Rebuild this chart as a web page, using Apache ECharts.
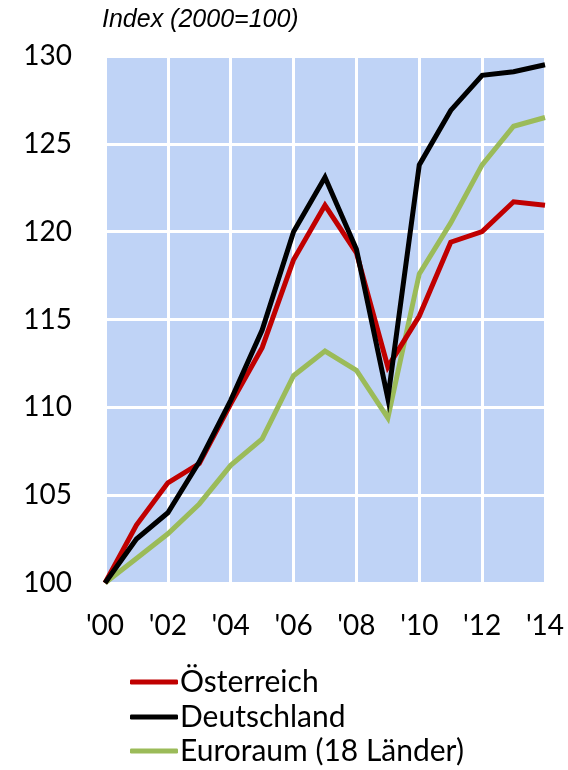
<!DOCTYPE html>
<html>
<head>
<meta charset="utf-8">
<script src="https://cdn.jsdelivr.net/npm/echarts@6/dist/echarts.min.js"></script>
<style>
    html, body { margin: 0; padding: 0; background: #fff; }
    #main { width: 568px; height: 770px; }
</style>
</head>
<body>
<div id="main"></div>
<script>
// years 2000..2014
var years = ["'00", "'01", "'02", "'03", "'04", "'05", "'06", "'07", "'08", "'09", "'10", "'11", "'12", "'13", "'14"];
var oesterreich = [100, 103.3, 105.7, 106.8, 110.2, 113.4, 118.4, 121.5, 118.8, 112.3, 115.2, 119.4, 120.0, 121.7, 121.5];
var deutschland = [100, 102.5, 104.0, 106.9, 110.4, 114.4, 120.0, 123.1, 119.0, 110.5, 123.8, 126.9, 128.9, 129.1, 129.5];
var euroraum = [100, 101.4, 102.8, 104.5, 106.7, 108.2, 111.8, 113.2, 112.1, 109.4, 117.6, 120.5, 123.8, 126.0, 126.5];
var seriesNames = ['Österreich', 'Deutschland', 'Euroraum (18 Länder)'];
var seriesColors = ['#c00000', '#000000', '#9bbb59'];

var font = 'Lato, "Open Sans", sans-serif';

function line(name, data, color) {
    return {
        name: name,
        type: 'line',
        data: data,
        symbol: 'none',
        lineStyle: { width: 5, color: color, join: 'miter' },
        itemStyle: { color: color },
        z: 3
    };
}

// one legend per row so nothing wraps
function legendRow(name, top) {
    return {
        orient: 'vertical',
        left: 130,
        top: top,
        padding: 0,
        itemWidth: 48,
        itemHeight: 5,
        icon: 'roundRect',
        textStyle: {
            fontFamily: font,
            fontSize: 30,
            color: '#000',
            padding: [0, 0, 0, -3]
        },
        data: [name]
    };
}

var myChart = echarts.init(document.getElementById('main'));
myChart.setOption({
    animation: false,
    title: {
        text: 'Index (2000=100)',
        left: 102,
        top: 8,
        padding: 0,
        textStyle: {
            fontFamily: '"Liberation Sans", Arial, sans-serif',
            fontStyle: 'italic',
            fontWeight: 'normal',
            fontSize: 25,
            color: '#000'
        }
    },
    grid: {
        left: 105,
        right: 23,
        top: 56,
        height: 527,
        show: true,
        backgroundColor: '#bfd3f6',
        borderWidth: 0
    },
    xAxis: {
        type: 'category',
        boundaryGap: false,
        data: years,
        axisTick: { show: false },
        axisLine: { show: false },
        axisLabel: {
            interval: 1,
            margin: 29,
            fontFamily: font,
            fontSize: 28,
            color: '#000'
        },
        splitLine: {
            show: true,
            interval: 1,
            lineStyle: { color: '#fff', width: 3 }
        }
    },
    yAxis: {
        type: 'value',
        min: 100,
        max: 130,
        interval: 5,
        axisTick: { show: false },
        axisLine: { show: false },
        axisLabel: {
            margin: 33,
            fontFamily: font,
            fontSize: 28,
            color: '#000'
        },
        splitLine: {
            lineStyle: { color: '#fff', width: 3 }
        }
    },
    legend: [
        legendRow(seriesNames[0], 667),
        legendRow(seriesNames[1], 702),
        legendRow(seriesNames[2], 736)
    ],
    series: [
        line(seriesNames[2], euroraum, seriesColors[2]),
        line(seriesNames[0], oesterreich, seriesColors[0]),
        line(seriesNames[1], deutschland, seriesColors[1])
    ]
});
</script>
</body>
</html>
